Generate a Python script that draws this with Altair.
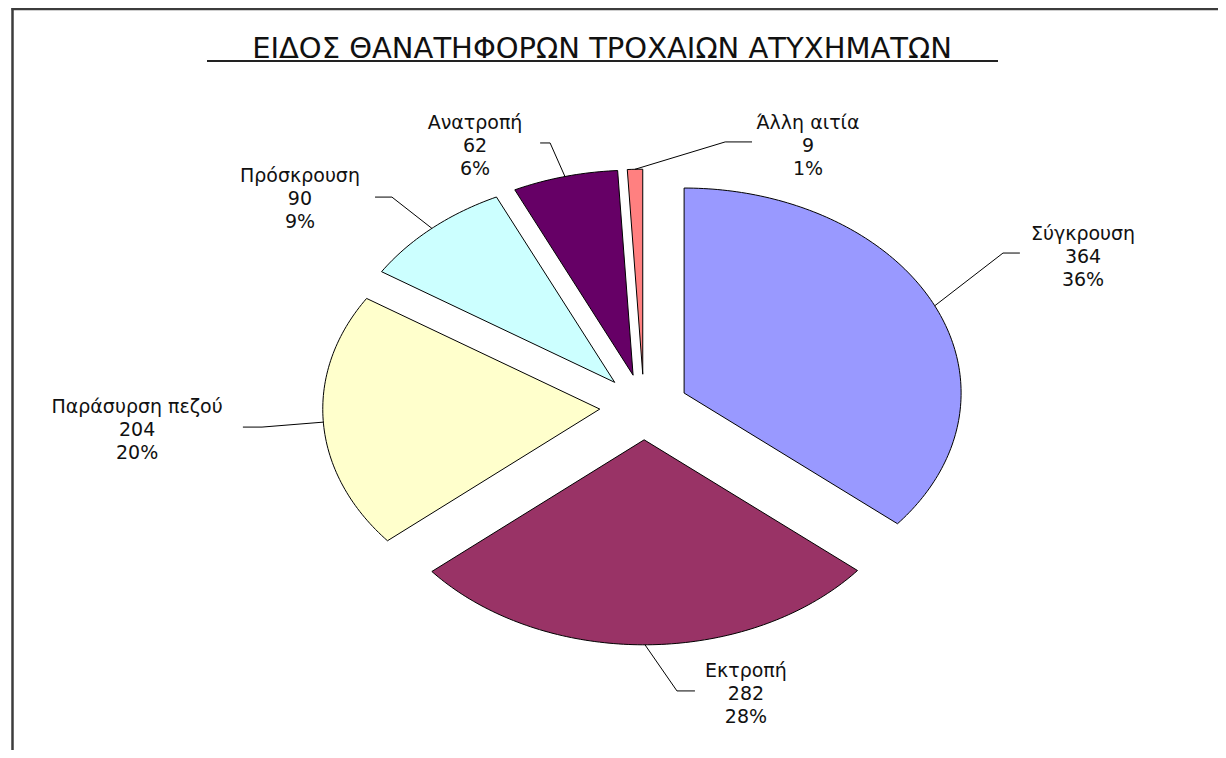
import math
import numpy as np
import pandas as pd
import altair as alt

# ---------------- data ----------------
TITLE = "ΕΙΔΟΣ ΘΑΝΑΤΗΦΟΡΩΝ ΤΡΟΧΑΙΩΝ ΑΤΥΧΗΜΑΤΩΝ"
categories = ["Σύγκρουση", "Εκτροπή", "Παράσυρση πεζού", "Πρόσκρουση", "Ανατροπή", "Άλλη αιτία"]
values = [364, 282, 204, 90, 62, 9]
colors = ["#9999FF", "#993366", "#FFFFCC", "#CCFFFF", "#660066", "#FF8080"]

# ---------------- layout (unit-circle space) ----------------
EXPLODE = 0.16
label_pos = [(1.585, 0.732), (0.368, -1.400), (-1.830, -0.112),
             (-1.242, 1.015), (-0.610, 1.273), (0.592, 1.273)]
leader_end = [(1.357, 0.751), (0.184, -1.385), (-1.448, -0.098),
              (-0.971, 1.024), (-0.375, 1.288), (0.390, 1.293)]
leader_step = [-0.061, -0.065, 0.069, 0.061, 0.036, -0.097]

W, H = 1210, 742
CX, CY, RX, RY = 636, 399, 277, 205
LINE_H = 23

total = sum(values)
pie_rows, lead_rows, lab_rows = [], [], []
cum = 0
for i, (c, v) in enumerate(zip(categories, values)):
    a0 = cum / total * 2 * math.pi
    cum += v
    a1 = cum / total * 2 * math.pi
    mid = (a0 + a1) / 2
    ox, oy = EXPLODE * math.sin(mid), EXPLODE * math.cos(mid)
    n = max(2, int(math.ceil(math.degrees(a1 - a0))))
    pts = [(ox, oy)] + [(ox + math.sin(a), oy + math.cos(a)) for a in np.linspace(a0, a1, n + 1)] + [(ox, oy)]
    for k, (x, y) in enumerate(pts):
        pie_rows.append({"category": c, "k": k, "x": x, "y": y})
    sx, sy = ox + math.sin(mid), oy + math.cos(mid)
    ex, ey = leader_end[i]
    for k, (x, y) in enumerate([(sx, sy), (ex + leader_step[i], ey), (ex, ey)]):
        lead_rows.append({"category": c, "k": k, "x": x, "y": y})
    pct = round(v / total * 100)
    lab_rows.append({"category": c, "x": label_pos[i][0], "y": label_pos[i][1],
                     "text": f"{c}\n{v}\n{pct}%"})

pie_df = pd.DataFrame(pie_rows)
lead_df = pd.DataFrame(lead_rows)
lab_df = pd.DataFrame(lab_rows)

xs = alt.Scale(domain=[-1, 1], range=[CX - RX, CX + RX], nice=False, zero=False)
ys = alt.Scale(domain=[-1, 1], range=[CY + RY, CY - RY], nice=False, zero=False)
X = alt.X("x:Q", scale=xs, axis=None)
Y = alt.Y("y:Q", scale=ys, axis=None)

pie = alt.Chart(pie_df).mark_line(filled=True, stroke="#000000", strokeWidth=1, strokeJoin="miter").encode(
    x=X, y=Y,
    color=alt.Color("category:N", scale=alt.Scale(domain=categories, range=colors), legend=None),
    detail="category:N",
    order=alt.Order("k:Q"),
)

leaders = alt.Chart(lead_df).mark_line(color="#000000", strokeWidth=1).encode(
    x=X, y=Y, detail="category:N", order=alt.Order("k:Q")
)

labels = alt.Chart(lab_df).mark_text(
    font="DejaVu Sans", fontSize=19, lineBreak="\n", lineHeight=LINE_H,
    align="center", baseline="middle", dy=-LINE_H, color="#111111"
).encode(x=X, y=Y, text="text:N")

one = pd.DataFrame({"a": [0]})
title = alt.Chart(one).mark_text(
    font="DejaVu Sans", fontSize=29, align="center", baseline="alphabetic", color="#111111"
).encode(x=alt.value(594), y=alt.value(50), text=alt.value(TITLE))

underline = alt.Chart(one).mark_rule(color="#222222", strokeWidth=2).encode(
    x=alt.value(199), x2=alt.value(990), y=alt.value(53)
)
border_left = alt.Chart(one).mark_rule(color="#3c3c3c", strokeWidth=2.5).encode(
    x=alt.value(4.5), y=alt.value(0), y2=alt.value(H)
)
border_top = alt.Chart(one).mark_rule(color="#3c3c3c", strokeWidth=2.5).encode(
    x=alt.value(3.5), x2=alt.value(W), y=alt.value(1)
)

chart = alt.layer(pie, leaders, labels, title, underline, border_left, border_top).properties(
    width=W, height=H, padding=0, autosize="none"
).configure_view(stroke=None)

chart.save("out.html", embed_options={"renderer": "svg", "actions": False})
